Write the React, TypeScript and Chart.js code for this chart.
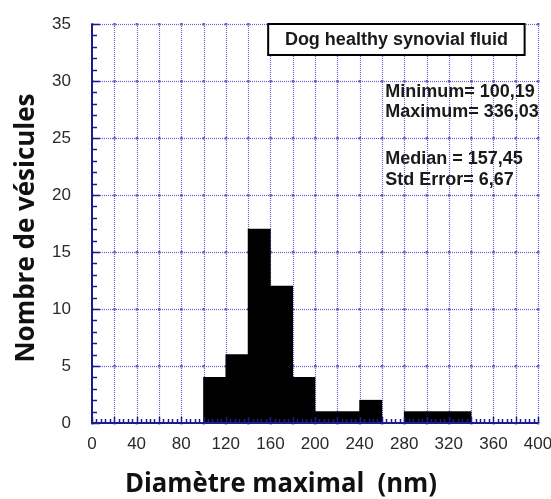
import React, { useEffect, useRef } from "react";
import { Chart, registerables } from "chart.js";

Chart.register(...registerables);

// ---- data ----
const binCenters = [110, 130, 150, 170, 190, 210, 230, 250, 270, 290, 310, 330];
const counts = [4, 6, 17, 12, 4, 1, 1, 2, 0, 1, 1, 1];
const xGridValues = [0, 20, 40, 60, 80, 100, 120, 140, 160, 180, 200, 220, 240, 260, 280, 300, 320, 340, 360, 380, 400];
const yGridValues = [0, 5, 10, 15, 20, 25, 30, 35];
const legendTitle = "Dog healthy synovial fluid";
const statsLines = ["Minimum= 100,19", "Maximum= 336,03", "Median = 157,45", "Std Error= 6,67"];
const xTitle = "Diamètre maximal  (nm)";
const yTitle = "Nombre de vésicules";

const GRID = "#6464c8";
const AXIS = "#1c1c8e";

const decor = {
  id: "decor",
  beforeDatasetsDraw(chart: any) {
    const { ctx, chartArea: a, scales } = chart;
    const xs = scales.x, ys = scales.y;
    ctx.save();
    ctx.strokeStyle = GRID;
    ctx.lineWidth = 1.2;
    ctx.setLineDash([1, 1]);
    xGridValues.forEach((v) => {
      if (v === 0) return;
      const px = Math.round(xs.getPixelForValue(v)) + 0.5;
      ctx.beginPath();
      ctx.moveTo(px, a.top);
      ctx.lineTo(px, a.bottom);
      ctx.stroke();
    });
    yGridValues.forEach((v) => {
      if (v === 0) return;
      const py = Math.round(ys.getPixelForValue(v)) + 0.5;
      ctx.beginPath();
      ctx.moveTo(a.left, py);
      ctx.lineTo(a.right, py);
      ctx.stroke();
    });
    ctx.setLineDash([]);
    ctx.fillStyle = GRID;
    xGridValues.forEach((xv) => {
      yGridValues.forEach((yv) => {
        const px = xs.getPixelForValue(xv);
        const py = ys.getPixelForValue(yv);
        ctx.fillRect(px - 1, py - 1, 2.5, 2.5);
      });
    });
    ctx.restore();
  },
  afterDatasetsDraw(chart: any) {
    const { ctx, chartArea: a, scales } = chart;
    const xs = scales.x, ys = scales.y;
    ctx.save();
    // axes
    ctx.strokeStyle = AXIS;
    ctx.lineWidth = 2;
    ctx.beginPath();
    ctx.moveTo(a.left, a.top);
    ctx.lineTo(a.left, a.bottom);
    ctx.lineTo(a.right, a.bottom);
    ctx.stroke();
    ctx.lineWidth = 1.5;
    // left minor/major ticks
    for (let v = 0; v <= 35; v++) {
      const py = Math.round(ys.getPixelForValue(v)) + 0.5;
      const len = v % 5 === 0 ? 8 : 5;
      ctx.beginPath();
      ctx.moveTo(a.left, py);
      ctx.lineTo(a.left + len, py);
      ctx.stroke();
    }
    // bottom minor/major ticks
    for (let v = 0; v <= 400; v += 4) {
      const px = Math.round(xs.getPixelForValue(v)) + 0.5;
      const len = v % 20 === 0 ? 6 : 4;
      ctx.beginPath();
      ctx.moveTo(px, a.bottom);
      ctx.lineTo(px, a.bottom - len);
      ctx.stroke();
    }
    // legend box
    const bx = xs.getPixelForValue(158), bw = xs.getPixelForValue(388) - bx;
    const by = a.top, bh = 31;
    ctx.fillStyle = "#fff";
    ctx.fillRect(bx, by, bw, bh);
    ctx.strokeStyle = "#000";
    ctx.lineWidth = 2;
    ctx.strokeRect(bx, by, bw, bh);
    ctx.fillStyle = "#1a1a1a";
    ctx.font = "bold 18px 'Liberation Sans', Arial, sans-serif";
    ctx.textAlign = "center";
    ctx.textBaseline = "middle";
    ctx.fillText(legendTitle, bx + bw / 2, by + bh / 2 + 1);
    // stats
    ctx.textAlign = "left";
    ctx.font = "bold 18px 'Liberation Sans', Arial, sans-serif";
    const sx = xs.getPixelForValue(263);
    const sy = [92, 112, 159, 180];
    statsLines.forEach((t, i) => ctx.fillText(t, sx, sy[i]));
    ctx.restore();
  },
  afterDraw(chart: any) {
    const { ctx } = chart;
    ctx.save();
    ctx.fillStyle = "#111";
    ctx.textAlign = "center";
    ctx.textBaseline = "middle";
    ctx.font = "bold 26px 'Open Sans', sans-serif";
    // x title
    let w = ctx.measureText(xTitle).width;
    ctx.save();
    ctx.translate(281, 485);
    ctx.scale(312 / w, 1);
    ctx.fillText(xTitle, 0, 0);
    ctx.restore();
    // y title
    w = ctx.measureText(yTitle).width;
    ctx.save();
    ctx.translate(27, 228);
    ctx.rotate(-Math.PI / 2);
    ctx.scale(269 / w, 1);
    ctx.fillText(yTitle, 0, 0);
    ctx.restore();
    ctx.restore();
  },
};

export default function App() {
  const ref = useRef<HTMLCanvasElement>(null);
  useEffect(() => {
    document.body.style.margin = "0";
    const chart = new Chart(ref.current!, {
      type: "bar",
      data: {
        datasets: [
          {
            data: binCenters.map((x, i) => ({ x, y: counts[i] })),
            backgroundColor: "#000",
            borderWidth: 0,
            barPercentage: 1,
            categoryPercentage: 1,
          },
        ],
      },
      options: {
        responsive: false,
        animation: false,
        layout: { padding: { top: 24, right: 13, left: 0, bottom: 0 } },
        plugins: { legend: { display: false }, tooltip: { enabled: false } },
        scales: {
          x: {
            type: "linear",
            min: 0,
            max: 400,
            offset: false,
            grid: { display: false },
            border: { display: false },
            ticks: {
              stepSize: 40,
              autoSkip: false,
              maxRotation: 0,
              color: "#2a2a2a",
              padding: 3,
              font: { family: "'Liberation Sans', Arial, sans-serif", size: 17 },
            },
            afterFit(s: any) {
              s.height = 76;
              s.paddingLeft = 0;
              s.paddingRight = 0;
            },
          },
          y: {
            min: 0,
            max: 35,
            grid: { display: false },
            border: { display: false },
            ticks: {
              stepSize: 5,
              color: "#2a2a2a",
              padding: 13,
              font: { family: "'Liberation Sans', Arial, sans-serif", size: 17 },
            },
            afterFit(s: any) {
              s.width = 92;
              s.paddingTop = 0;
              s.paddingBottom = 0;
            },
          },
        },
      },
      plugins: [decor],
    } as any);
    return () => chart.destroy();
  }, []);
  return (
    <div style={{ width: 551, height: 499 }}>
      <canvas ref={ref} width={551} height={499} />
    </div>
  );
}
